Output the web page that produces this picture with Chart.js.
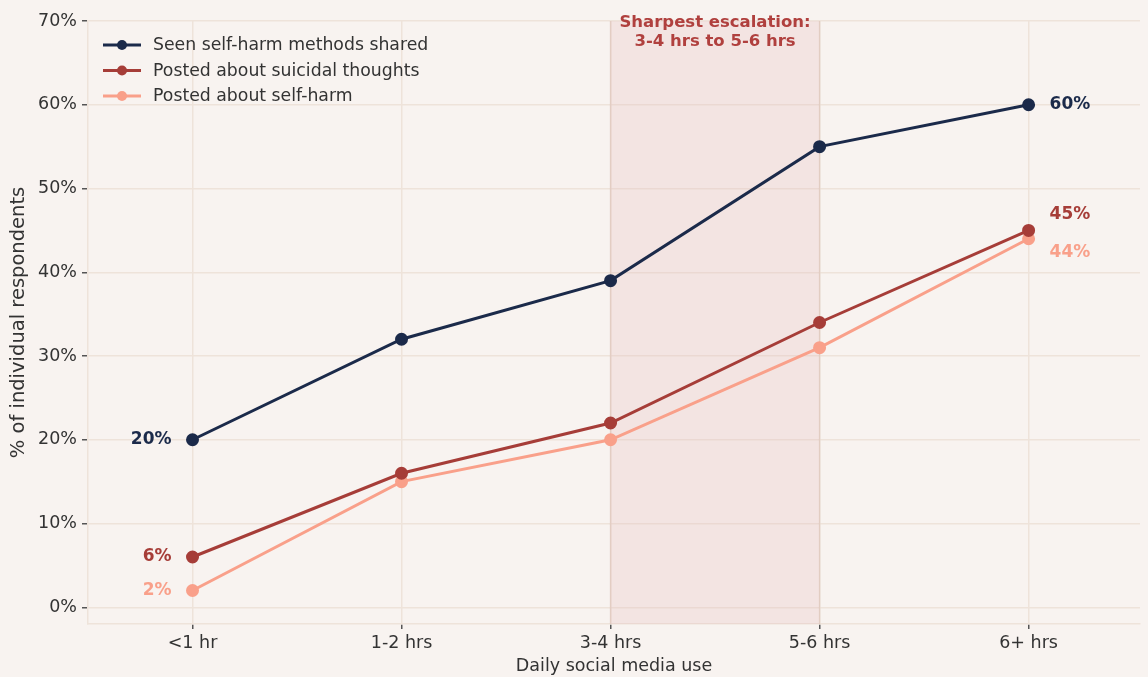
<!DOCTYPE html>
<html>
<head>
<meta charset="utf-8">
<script src="https://cdn.jsdelivr.net/npm/chart.js@4/dist/chart.umd.min.js"></script>
<style>
  html, body { margin: 0; padding: 0; background: #f8f3f0; overflow: hidden; }
  canvas { display: block; }
</style>
</head>
<body>
<canvas id="chart" width="1148" height="677"></canvas>
<script>
const categories = ['<1 hr', '1-2 hrs', '3-4 hrs', '5-6 hrs', '6+ hrs'];
const seenMethods = [20, 32, 39, 55, 60];
const postedSuicidal = [6, 16, 22, 34, 45];
const postedSelfHarm = [2, 15, 20, 31, 44];
const seriesNames = ['Seen self-harm methods shared', 'Posted about suicidal thoughts', 'Posted about self-harm'];
const seriesColors = ['#1b2a4a', '#a63d38', '#f9a08a'];
const yTicks = [0, 10, 20, 30, 40, 50, 60, 70];
const highlightRange = [2, 3]; // 3-4 hrs to 5-6 hrs
const highlightText = ['Sharpest escalation:', '3-4 hrs to 5-6 hrs'];

const FONT = "'DejaVu Sans', sans-serif";

function toPoints(values) {
    return values.map((v, i) => ({ x: i, y: v }));
}

const allSeries = [seenMethods, postedSuicidal, postedSelfHarm];

const datasets = allSeries.map((vals, i) => ({
    label: seriesNames[i],
    data: toPoints(vals),
    borderColor: seriesColors[i],
    backgroundColor: seriesColors[i],
    borderWidth: 3,
    pointRadius: 5,
    pointHoverRadius: 5,
    tension: 0
}));

// shaded band plus its caption, drawn behind the lines
const bandPlugin = {
    id: 'band',
    beforeDatasetsDraw(chart) {
        const { ctx, chartArea, scales } = chart;
        const x0 = scales.x.getPixelForValue(highlightRange[0]);
        const x1 = scales.x.getPixelForValue(highlightRange[1]);
        ctx.save();
        ctx.fillStyle = 'rgba(230, 190, 190, 0.27)';
        ctx.fillRect(x0, chartArea.top, x1 - x0, chartArea.bottom - chartArea.top);
        ctx.strokeStyle = 'rgba(210, 175, 160, 0.35)';
        ctx.lineWidth = 1.5;
        ctx.beginPath();
        ctx.moveTo(x0, chartArea.top); ctx.lineTo(x0, chartArea.bottom);
        ctx.moveTo(x1, chartArea.top); ctx.lineTo(x1, chartArea.bottom);
        ctx.stroke();
        ctx.fillStyle = '#b0403e';
        ctx.font = 'bold 16.5px ' + FONT;
        ctx.textAlign = 'center';
        ctx.textBaseline = 'middle';
        const cx = (x0 + x1) / 2;
        ctx.fillText(highlightText[0], cx, 23);
        ctx.fillText(highlightText[1], cx, 42);
        ctx.restore();
    }
};

// end labels and the legend inside the plot
const labelPlugin = {
    id: 'endLabels',
    afterDatasetsDraw(chart) {
        const { ctx, scales } = chart;
        ctx.save();
        ctx.font = 'bold 17px ' + FONT;
        ctx.textBaseline = 'middle';
        const last = categories.length - 1;
        const rightOffsets = [0, -16, 14];
        allSeries.forEach((vals, i) => {
            ctx.fillStyle = seriesColors[i];
            const xs = scales.x.getPixelForValue(0);
            ctx.textAlign = 'right';
            ctx.fillText(vals[0] + '%', xs - 21, scales.y.getPixelForValue(vals[0]));
            const xe = scales.x.getPixelForValue(last);
            ctx.textAlign = 'left';
            ctx.fillText(vals[last] + '%', xe + 21, scales.y.getPixelForValue(vals[last]) + rightOffsets[i]);
        });

        // legend
        ctx.font = '17.3px ' + FONT;
        ctx.textAlign = 'left';
        seriesNames.forEach((name, i) => {
            const y = 45 + i * 25.5;
            ctx.strokeStyle = seriesColors[i];
            ctx.lineWidth = 3;
            ctx.beginPath();
            ctx.moveTo(103, y); ctx.lineTo(141, y);
            ctx.stroke();
            ctx.fillStyle = seriesColors[i];
            ctx.beginPath();
            ctx.arc(122, y, 5, 0, Math.PI * 2);
            ctx.fill();
            ctx.fillStyle = '#333333';
            ctx.fillText(name, 153, y + 1);
        });
        ctx.restore();
    }
};

new Chart(document.getElementById('chart'), {
    type: 'line',
    data: { datasets },
    options: {
        responsive: false,
        maintainAspectRatio: false,
        animation: false,
        layout: { padding: { top: 21, right: 0, left: 0, bottom: 0 } },
        plugins: {
            legend: { display: false },
            tooltip: { enabled: false }
        },
        scales: {
            x: {
                type: 'linear',
                min: -0.5,
                max: 4.533,
                afterBuildTicks(scale) {
                    scale.ticks = categories.map((c, i) => ({ value: i }));
                },
                afterFit(scale) {
                    scale.height = 53;
                    scale.paddingLeft = 0;
                    scale.paddingRight = 0;
                },
                ticks: {
                    callback: (v) => categories[v],
                    color: '#333333',
                    font: { family: FONT, size: 17.5 },
                    padding: 4,
                    maxRotation: 0
                },
                grid: {
                    color: '#eee3da',
                    lineWidth: 1.5,
                    tickLength: 5,
                    tickColor: '#555555'
                },
                border: { color: '#eee3da', width: 1.5 },
                title: {
                    display: true,
                    text: 'Daily social media use',
                    color: '#333333',
                    font: { family: FONT, size: 17.5 },
                    padding: { top: 0, bottom: 0 }
                }
            },
            y: {
                min: -2,
                max: 70,
                afterBuildTicks(scale) {
                    scale.ticks = yTicks.map(v => ({ value: v }));
                },
                afterFit(scale) { scale.width = 88; },
                ticks: {
                    callback: (v) => v + '%',
                    color: '#333333',
                    font: { family: FONT, size: 17.5 },
                    padding: 5
                },
                grid: {
                    color: '#eee3da',
                    lineWidth: 1.5,
                    tickLength: 6,
                    tickColor: '#555555'
                },
                border: { color: '#eee3da', width: 1.5 },
                title: {
                    display: true,
                    text: '% of individual respondents',
                    color: '#333333',
                    font: { family: FONT, size: 19.5 },
                    padding: { top: 7, bottom: 0 }
                }
            }
        }
    },
    plugins: [bandPlugin, labelPlugin]
});
</script>
</body>
</html>
